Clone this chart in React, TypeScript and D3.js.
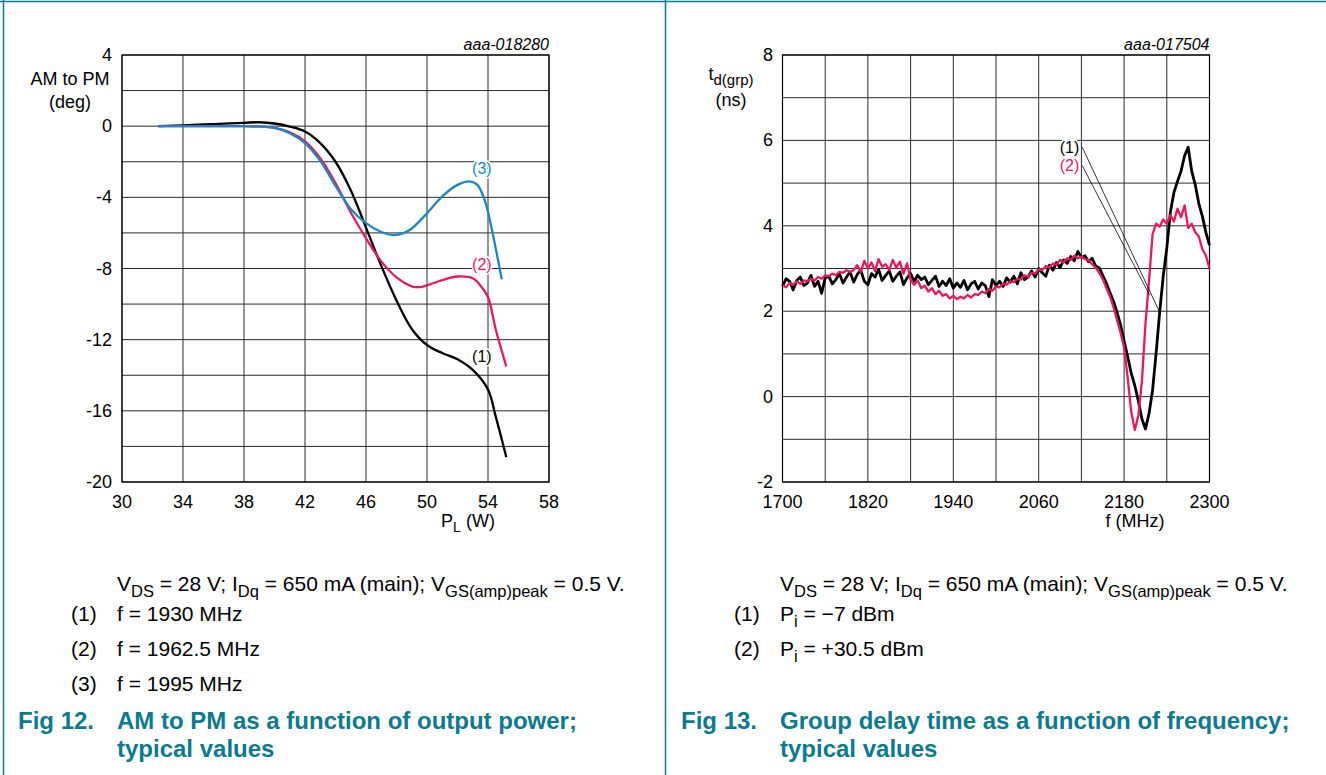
import React from 'react';
import * as d3 from 'd3';

const W = 1326;
const H = 775;
const FONT = "'Liberation Sans', Arial, Helvetica, sans-serif";
const TEAL = '#0a7a8e';
const PINK = '#e8185e';
const BLUE = '#1a87c4';
const BLACK = '#000000';

// ---------- Fig 12: AM to PM vs P_L ----------
const AMPM_X_TICKS = [30, 34, 38, 42, 46, 50, 54, 58];
const AMPM_Y_TICKS = [4, 0, -4, -8, -12, -16, -20];
const AMPM_Y_GRID = [4, 2, 0, -2, -4, -6, -8, -10, -12, -14, -16, -18, -20];

const S1_X = [32.4, 34, 36, 38, 39, 40, 41, 42, 43, 44, 45, 46, 47, 48, 49, 50, 51, 52, 53, 54, 54.5, 55.2];
const S1_Y = [0, 0.05, 0.12, 0.19, 0.22, 0.15, -0.02, -0.3, -0.95, -2.0, -3.6, -5.7, -7.85, -9.8, -11.4, -12.3, -12.75, -13.1, -13.7, -14.8, -16.3, -18.6];

const S2_X = [32.4, 34, 36, 38, 40, 41, 42, 43, 44, 45, 46, 47, 48, 49, 49.5, 50, 51, 52, 53, 53.5, 54, 54.5, 55.2];
const S2_Y = [0, 0, 0, 0, -0.1, -0.35, -0.85, -1.8, -3.2, -4.85, -6.3, -7.6, -8.5, -9.0, -9.05, -8.95, -8.65, -8.45, -8.55, -8.95, -9.6, -11.4, -13.5];

const S3_X = [32.4, 34, 36, 38, 40, 41, 42, 43, 44, 45, 46, 47, 47.8, 48.5, 49, 50, 51, 52, 52.8, 53.3, 53.8, 54.3, 54.9];
const S3_Y = [0, 0, 0, 0, -0.1, -0.4, -0.95, -1.95, -3.35, -4.65, -5.45, -5.95, -6.12, -6.0, -5.75, -4.9, -3.95, -3.3, -3.1, -3.3, -4.2, -6.0, -8.6];

const AMPM_LABELS = [
  { text: '(1)', x: 53.6, y: -12.95, color: BLACK },
  { text: '(2)', x: 53.6, y: -7.75, color: PINK },
  { text: '(3)', x: 53.6, y: -2.4, color: BLUE },
];

// ---------- Fig 13: group delay vs f ----------
const GD_X_TICKS = [1700, 1820, 1940, 2060, 2180, 2300];
const GD_X_GRID = [1700, 1760, 1820, 1880, 1940, 2000, 2060, 2120, 2180, 2240, 2300];
const GD_Y_TICKS = [8, 6, 4, 2, 0, -2];
const GD_Y_GRID = [8, 7, 6, 5, 4, 3, 2, 1, 0, -1, -2];

// sampled every 5 MHz from 1700 to 2300
const FREQS = d3.range(1700, 2300.001, 5);

// (1) Pi = -7 dBm
const GD_PI_M7 = [
  2.58, 2.76, 2.70, 2.50, 2.72, 2.80, 2.60, 2.66, 2.84, 2.58,
  2.70, 2.42, 2.78, 2.82, 2.64, 2.74, 2.88, 2.66, 2.80, 2.92,
  2.68, 2.86, 2.96, 2.70, 2.62, 2.88, 2.80, 2.98, 2.72, 2.84,
  2.94, 2.70, 2.82, 2.92, 2.62, 2.78, 2.88, 2.70, 2.84, 2.74,
  2.80, 2.62, 2.72, 2.82, 2.58, 2.70, 2.60, 2.76, 2.54, 2.66,
  2.56, 2.72, 2.50, 2.64, 2.70, 2.52, 2.66, 2.60, 2.34, 2.74,
  2.60, 2.70, 2.58, 2.78, 2.68, 2.82, 2.64, 2.90, 2.74, 2.80,
  2.94, 2.80, 3.00, 2.90, 2.82, 3.08, 2.96, 3.14, 3.02, 3.20,
  3.12, 3.28, 3.18, 3.40, 3.26, 3.30, 3.16, 3.24, 3.06, 3.02,
  2.84, 2.66, 2.44, 2.24, 1.98, 1.68, 1.30, 0.94, 0.55, 0.26,
  -0.10, -0.52, -0.76, -0.40, 0.15, 1.02, 1.98, 2.82, 3.48, 4.32,
  4.78, 5.04, 5.28, 5.64, 5.84, 5.28, 4.96, 4.52, 4.22, 3.84,
  3.55,
];

// (2) Pi = +30.5 dBm
const GD_PI_P305 = [
  2.60, 2.56, 2.66, 2.62, 2.70, 2.64, 2.72, 2.70, 2.76, 2.72,
  2.80, 2.76, 2.84, 2.82, 2.88, 2.84, 2.92, 2.90, 2.96, 2.92,
  2.96, 3.08, 2.92, 3.18, 3.00, 3.14, 2.94, 3.22, 3.04, 3.10,
  2.96, 3.20, 3.02, 3.16, 2.88, 3.12, 2.74, 2.62, 2.72, 2.54,
  2.60, 2.46, 2.54, 2.40, 2.48, 2.36, 2.40, 2.30, 2.36, 2.28,
  2.34, 2.30, 2.38, 2.32, 2.40, 2.38, 2.46, 2.42, 2.52, 2.48,
  2.58, 2.56, 2.64, 2.62, 2.70, 2.68, 2.76, 2.74, 2.84, 2.80,
  2.90, 2.88, 2.98, 2.96, 3.06, 3.02, 3.12, 3.08, 3.20, 3.14,
  3.24, 3.20, 3.30, 3.24, 3.28, 3.22, 3.20, 3.10, 3.02, 2.90,
  2.75, 2.55, 2.35, 2.10, 1.80, 1.50, 1.15, 0.45, -0.35, -0.78,
  -0.45, 0.35, 1.70, 2.70, 3.80, 4.05, 3.98, 4.15, 4.05, 4.25,
  4.10, 4.40, 4.20, 4.48, 3.95, 4.05, 3.85, 3.75, 3.45, 3.30,
  3.00,
];

const GD_LABELS = [
  { text: '(1)', lx: 2117, ly: 5.84, ex: 2229, ey: 2.01, color: BLACK },
  { text: '(2)', lx: 2117, ly: 5.41, ex: 2216, ey: 2.37, color: PINK },
];

type Seg = { t: string; sub?: boolean };

function Rich({ x, y, segs, size, subSize, anchor = 'start', fill = '#000', weight = 'normal' }: {
  x: number; y: number; segs: Seg[]; size: number; subSize?: number; anchor?: string; fill?: string; weight?: string;
}) {
  const ss = subSize ?? size * 0.75;
  const shift = size * 0.28;
  let prevSub = false;
  return (
    <text x={x} y={y} fontFamily={FONT} fontSize={size} textAnchor={anchor as any} fill={fill} fontWeight={weight}>
      {segs.map((s, i) => {
        let dy = 0;
        if (s.sub && !prevSub) dy = shift;
        if (!s.sub && prevSub) dy = -shift;
        prevSub = !!s.sub;
        return (
          <tspan key={i} dy={dy} fontSize={s.sub ? ss : size}>{s.t}</tspan>
        );
      })}
    </text>
  );
}

const CONDITIONS: Seg[] = [
  { t: 'V' }, { t: 'DS', sub: true }, { t: ' = 28 V; I' }, { t: 'Dq', sub: true },
  { t: ' = 650 mA (main); V' }, { t: 'GS(amp)peak', sub: true }, { t: ' = 0.5 V.' },
];

const GRID_COLOR = '#2a2a2a';
const TICK_SIZE = 18;

function AmPmChart() {
  const x = d3.scaleLinear().domain([30, 58]).range([122, 549]);
  const y = d3.scaleLinear().domain([-20, 4]).range([482, 55]);
  const line = d3.line<[number, number]>().x(d => x(d[0])).y(d => y(d[1])).curve(d3.curveCatmullRom.alpha(0.5));
  const series = [
    { xs: S1_X, ys: S1_Y, color: BLACK },
    { xs: S2_X, ys: S2_Y, color: PINK },
    { xs: S3_X, ys: S3_Y, color: BLUE },
  ];
  return (
    <g>
      {AMPM_X_TICKS.map(v => (
        <line key={'vx' + v} x1={x(v)} x2={x(v)} y1={y(4)} y2={y(-20)} stroke={GRID_COLOR} strokeWidth={1} />
      ))}
      {AMPM_Y_GRID.map(v => (
        <line key={'hy' + v} x1={x(30)} x2={x(58)} y1={y(v)} y2={y(v)} stroke={GRID_COLOR} strokeWidth={1} />
      ))}
      <rect x={x(30)} y={y(4)} width={x(58) - x(30)} height={y(-20) - y(4)} fill="none" stroke="#000" strokeWidth={1.2} />
      {series.map((s, i) => (
        <path key={i} d={line(s.xs.map((v, j) => [v, s.ys[j]]) as [number, number][]) || ''} fill="none" stroke={s.color} strokeWidth={2.3} />
      ))}
      {AMPM_LABELS.map(l => (
        <text key={l.text} x={x(l.x)} y={y(l.y)} fontFamily={FONT} fontSize={16} textAnchor="middle" dominantBaseline="central" fill={l.color}
          stroke="#fff" strokeWidth={3} paintOrder="stroke">{l.text}</text>
      ))}
      {AMPM_Y_TICKS.map(v => (
        <text key={'yt' + v} x={112} y={y(v)} fontFamily={FONT} fontSize={TICK_SIZE} textAnchor="end" dominantBaseline="central">{v}</text>
      ))}
      {AMPM_X_TICKS.map(v => (
        <text key={'xt' + v} x={x(v)} y={508} fontFamily={FONT} fontSize={TICK_SIZE} textAnchor="middle">{v}</text>
      ))}
      <text x={x(58)} y={50} fontFamily={FONT} fontSize={16} fontStyle="italic" textAnchor="end">aaa-018280</text>
      <text x={70} y={85} fontFamily={FONT} fontSize={18} textAnchor="middle">AM to PM</text>
      <text x={70} y={108} fontFamily={FONT} fontSize={18} textAnchor="middle">(deg)</text>
      <Rich x={468} y={527} size={18} subSize={14} anchor="middle" segs={[{ t: 'P' }, { t: 'L', sub: true }, { t: ' (W)' }]} />
    </g>
  );
}

function GroupDelayChart() {
  const x = d3.scaleLinear().domain([1700, 2300]).range([782.5, 1209.5]);
  const y = d3.scaleLinear().domain([-2, 8]).range([482, 55]);
  const line = d3.line<number>().x((_, i) => x(FREQS[i])).y(d => y(d));
  return (
    <g>
      {GD_X_GRID.map(v => (
        <line key={'vx' + v} x1={x(v)} x2={x(v)} y1={y(8)} y2={y(-2)} stroke={GRID_COLOR} strokeWidth={1} />
      ))}
      {GD_Y_GRID.map(v => (
        <line key={'hy' + v} x1={x(1700)} x2={x(2300)} y1={y(v)} y2={y(v)} stroke={GRID_COLOR} strokeWidth={1} />
      ))}
      <rect x={x(1700)} y={y(8)} width={x(2300) - x(1700)} height={y(-2) - y(8)} fill="none" stroke="#000" strokeWidth={1.2} />
      <path d={line(GD_PI_M7) || ''} fill="none" stroke={BLACK} strokeWidth={2.8} strokeLinejoin="round" />
      <path d={line(GD_PI_P305) || ''} fill="none" stroke={PINK} strokeWidth={2.3} strokeLinejoin="round" />
      {GD_LABELS.map(l => (
        <g key={l.text}>
          <line x1={x(l.lx) + 3} y1={y(l.ly)} x2={x(l.ex)} y2={y(l.ey)} stroke="#000" strokeWidth={0.8} />
          <text x={x(l.lx)} y={y(l.ly)} fontFamily={FONT} fontSize={16} textAnchor="end" dominantBaseline="central" fill={l.color}
            stroke="#fff" strokeWidth={3} paintOrder="stroke">{l.text}</text>
        </g>
      ))}
      {GD_Y_TICKS.map(v => (
        <text key={'yt' + v} x={773} y={y(v)} fontFamily={FONT} fontSize={TICK_SIZE} textAnchor="end" dominantBaseline="central">{v}</text>
      ))}
      {GD_X_TICKS.map(v => (
        <text key={'xt' + v} x={x(v)} y={508} fontFamily={FONT} fontSize={TICK_SIZE} textAnchor="middle">{v}</text>
      ))}
      <text x={x(2300)} y={50} fontFamily={FONT} fontSize={16} fontStyle="italic" textAnchor="end">aaa-017504</text>
      <Rich x={731} y={80} size={18} subSize={15} anchor="middle" segs={[{ t: 't' }, { t: 'd(grp)', sub: true }]} />
      <text x={731} y={106} fontFamily={FONT} fontSize={18} textAnchor="middle">(ns)</text>
      <text x={1135} y={527} fontFamily={FONT} fontSize={18} textAnchor="middle">f (MHz)</text>
    </g>
  );
}

const CAP = 21;
const CAP_SUB = 16.5;
const FIG = 24;

function Captions() {
  return (
    <g>
      <Rich x={117} y={591} size={CAP} subSize={CAP_SUB} segs={CONDITIONS} />
      <text x={71} y={621} fontFamily={FONT} fontSize={CAP}>(1)</text>
      <text x={117} y={621} fontFamily={FONT} fontSize={CAP}>f = 1930 MHz</text>
      <text x={71} y={656} fontFamily={FONT} fontSize={CAP}>(2)</text>
      <text x={117} y={656} fontFamily={FONT} fontSize={CAP}>f = 1962.5 MHz</text>
      <text x={71} y={691} fontFamily={FONT} fontSize={CAP}>(3)</text>
      <text x={117} y={691} fontFamily={FONT} fontSize={CAP}>f = 1995 MHz</text>
      <text x={18} y={729} fontFamily={FONT} fontSize={FIG} fontWeight="bold" fill={TEAL}>Fig 12.</text>
      <text x={117} y={729} fontFamily={FONT} fontSize={FIG} fontWeight="bold" fill={TEAL}>AM to PM as a function of output power;</text>
      <text x={117} y={757} fontFamily={FONT} fontSize={FIG} fontWeight="bold" fill={TEAL}>typical values</text>

      <Rich x={780} y={591} size={CAP} subSize={CAP_SUB} segs={CONDITIONS} />
      <text x={734} y={621} fontFamily={FONT} fontSize={CAP}>(1)</text>
      <Rich x={780} y={621} size={CAP} subSize={CAP_SUB} segs={[{ t: 'P' }, { t: 'i', sub: true }, { t: ' = \u22127 dBm' }]} />
      <text x={734} y={656} fontFamily={FONT} fontSize={CAP}>(2)</text>
      <Rich x={780} y={656} size={CAP} subSize={CAP_SUB} segs={[{ t: 'P' }, { t: 'i', sub: true }, { t: ' = +30.5 dBm' }]} />
      <text x={681} y={729} fontFamily={FONT} fontSize={FIG} fontWeight="bold" fill={TEAL}>Fig 13.</text>
      <text x={780} y={729} fontFamily={FONT} fontSize={FIG} fontWeight="bold" fill={TEAL}>Group delay time as a function of frequency;</text>
      <text x={780} y={757} fontFamily={FONT} fontSize={FIG} fontWeight="bold" fill={TEAL}>typical values</text>
    </g>
  );
}

export default function App() {
  return (
    <svg width={W} height={H} viewBox={`0 0 ${W} ${H}`} style={{ position: 'absolute', left: 0, top: 0, background: '#fff' }}>
      <rect x={0} y={0} width={W} height={H} fill="#fff" />
      <line x1={0} x2={W} y1={1.5} y2={1.5} stroke={TEAL} strokeWidth={1.5} />
      <line x1={3.5} x2={3.5} y1={0} y2={H} stroke={TEAL} strokeWidth={1.5} />
      <line x1={665.5} x2={665.5} y1={0} y2={H} stroke={TEAL} strokeWidth={1.5} />
      <AmPmChart />
      <GroupDelayChart />
      <Captions />
    </svg>
  );
}
